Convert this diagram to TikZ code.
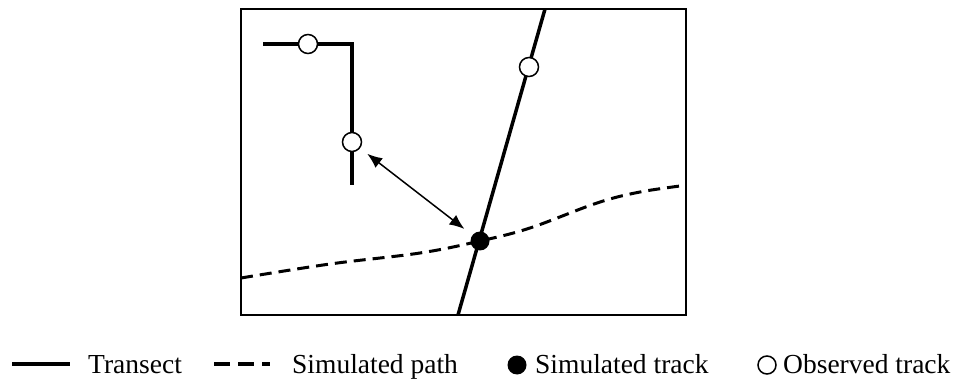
\documentclass[tikz,border=0pt]{standalone}
\usepackage{fontspec}
\setmainfont{Liberation Serif}
\usetikzlibrary{arrows.meta}
\begin{document}
\begin{tikzpicture}[x=1pt,y=-1pt,
  frame/.style={line width=2.5pt},
  transect/.style={line width=3.5pt},
  simpath/.style={line width=3pt,dash pattern=on 12pt off 7pt},
  obs/.style={circle,draw,fill=white,line width=1.5pt,minimum size=19pt,inner sep=0pt},
  sim/.style={circle,fill=black,minimum size=19pt,inner sep=0pt},
  link/.style={line width=1.5pt,{Latex[length=15pt,width=12pt]}-{Latex[length=15pt,width=12pt]},shorten <=9pt,shorten >=10pt},
  legtext/.style={anchor=base west,inner sep=0pt,font=\fontsize{27.5}{30}\selectfont}
]
\useasboundingbox (0,0) rectangle (958,379);
% frame
\draw[frame] (241,9) rectangle (686,315);
% coordinates
\coordinate (la) at (263,44);
\coordinate (lb) at (352,44);
\coordinate (lc) at (352,185);
\coordinate (ta) at (545,9);
\coordinate (tb) at (458,315);
% transects
\draw[transect,line join=miter] (la) -- (lb) -- (lc);
\draw[transect] (ta) -- (tb);
% simulated path
\begin{scope}
\clip (241,9) rectangle (686,315);
\draw[simpath] plot[smooth,tension=0.6] coordinates {(241,278) (330,264) (420,253) (480,241) (530,228) (597,203) (640,192) (688,185)};
\end{scope}
% tracks
\node[obs] (o1) at (308,44) {};
\node[obs] (o2) at (352,142) {};
\node[obs] (o3) at (529,67) {};
\node[sim] (s1) at (480,241) {};
% distance arrow
\draw[link] (o2) -- (s1);
% legend
\coordinate (l1a) at (12,364);
\coordinate (l1b) at (70,364);
\draw[line width=4.5pt] (l1a) -- (l1b);
\node[legtext] (t1) at (88,373) {Transect};
\coordinate (l2a) at (214,364);
\coordinate (l2b) at (270,364);
\draw[line width=4.5pt,dash pattern=on 16pt off 8pt] (l2a) -- (l2b);
\node[legtext] (t2) at (292,373) {Simulated path};
\node[sim,minimum size=19pt] (ls) at (517,365) {};
\node[legtext] (t3) at (535,373) {Simulated track};
\node[obs,minimum size=18pt,line width=1.5pt] (lo) at (767,365) {};
\node[legtext] (t4) at (783,373) {Observed track};
\end{tikzpicture}
\end{document}
